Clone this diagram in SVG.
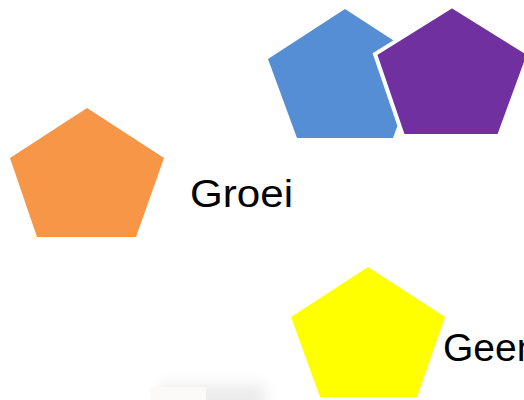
<svg xmlns="http://www.w3.org/2000/svg" width="524" height="400" viewBox="0 0 524 400">
  <defs>
    <style>
      .lbl { font-family: "Liberation Sans", "Open Sans", sans-serif; font-size: 39px; fill: #000; }
    </style>
    <filter id="blur" x="-50%" y="-50%" width="200%" height="200%">
      <feGaussianBlur stdDeviation="7"/>
    </filter>
  </defs>
  <rect width="524" height="400" fill="#ffffff"/>
  <g id="shadow" filter="url(#blur)">
    <rect x="160" y="384" width="105" height="30" fill="#ececec"/>
  </g>
  <rect x="150" y="387" width="56" height="13" fill="#fbfaf8"/>
  <g id="blue">
    <polygon points="345,9 422,59 393,138 297,138 268,59" fill="#558ED5"/>
  </g>
  <g id="purple">
    <polygon points="452,6 529,54 499,136 403,136 375,54" fill="#7030A0" stroke="#ffffff" stroke-width="4" stroke-linejoin="miter"/>
  </g>
  <g id="orange">
    <polygon points="87,108 164,158 136,237 37,237 10,158" fill="#F79646"/>
    <text class="lbl" x="190" y="207" textLength="103" lengthAdjust="spacingAndGlyphs">Groei</text>
  </g>
  <g id="yellow">
    <polygon points="368,267 445,317 417,397 320,397 291,317" fill="#FFFF00"/>
    <text class="lbl" x="443" y="361">Geen</text>
  </g>
  <g id="connectors"/>
</svg>
